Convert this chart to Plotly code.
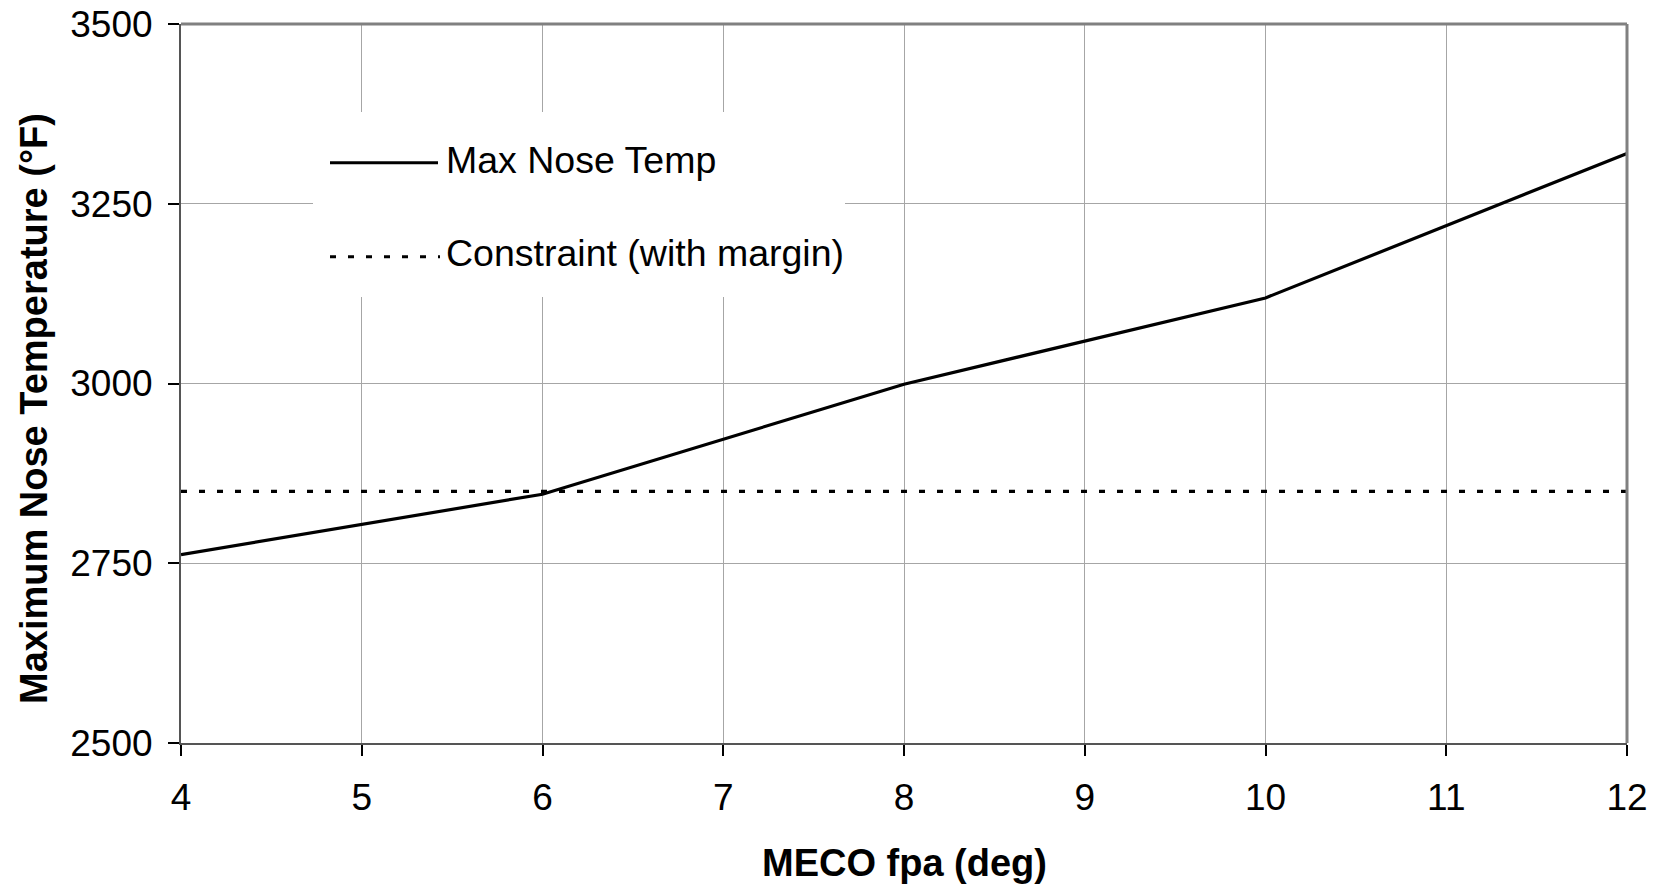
import plotly.graph_objects as go

# ---- data ----
fpa_deg = [4, 6, 8, 10, 12]
max_nose_temp = [2762, 2846, 2999, 3119, 3320]
constraint_x = [4, 12]
constraint_temp = [2850, 2850]

x_ticks = [4, 5, 6, 7, 8, 9, 10, 11, 12]
y_ticks = [2500, 2750, 3000, 3250, 3500]

legend_labels = ["Max Nose Temp", "Constraint (with margin)"]
x_title = "MECO fpa (deg)"
y_title = "Maximum Nose Temperature (°F)"

FONT = "Liberation Sans, Arial, sans-serif"
W, H = 1661, 887
L, R, T, B = 181, 34, 24, 144
PW, PH = W - L - R, H - T - B


def px_x(p):
    return (p - L) / PW


def px_y(p):
    return (H - B - p) / PH


fig = go.Figure()
fig.add_trace(go.Scatter(x=fpa_deg, y=max_nose_temp, mode="lines",
                         name=legend_labels[0],
                         line=dict(color="black", width=3.2)))
fig.add_trace(go.Scatter(x=constraint_x, y=constraint_temp, mode="lines",
                         name=legend_labels[1],
                         line=dict(color="black", width=3.2, dash="6px,12px")))

fig.update_layout(
    width=W, height=H,
    margin=dict(l=L, r=R, t=T, b=B),
    paper_bgcolor="white", plot_bgcolor="white",
    showlegend=False,
    font=dict(family=FONT, size=37, color="black"),
)
fig.update_xaxes(range=[4, 12], tickvals=x_ticks, showgrid=True,
                 gridcolor="#a6a6a6", gridwidth=1,
                 showline=True, linecolor="#555555", linewidth=2,
                 ticks="outside", ticklen=11, tickwidth=1.5, tickcolor="black",
                 tickfont=dict(size=37), zeroline=False, automargin=False,
                 ticklabelstandoff=10)
fig.update_yaxes(range=[2500, 3500], tickvals=y_ticks, showgrid=True,
                 gridcolor="#a6a6a6", gridwidth=1,
                 showline=True, linecolor="#555555", linewidth=2,
                 ticks="outside", ticklen=11, tickwidth=1.5, tickcolor="black",
                 tickfont=dict(size=37), zeroline=False, ticklabelstandoff=8,
                 automargin=False)

shapes = [
    # top and right frame borders
    dict(type="line", xref="paper", yref="paper", x0=0, x1=1, y0=1, y1=1,
         line=dict(color="#808080", width=3)),
    dict(type="line", xref="paper", yref="paper", x0=1, x1=1, y0=0, y1=1,
         line=dict(color="#808080", width=3)),
    # legend box
    dict(type="rect", xref="paper", yref="paper",
         x0=px_x(313), x1=px_x(845), y0=px_y(297), y1=px_y(112),
         fillcolor="white", line=dict(width=0), layer="above"),
    dict(type="line", xref="paper", yref="paper",
         x0=px_x(330), x1=px_x(438), y0=px_y(162.7), y1=px_y(162.7),
         line=dict(color="black", width=3), layer="above"),
    dict(type="line", xref="paper", yref="paper",
         x0=px_x(330), x1=px_x(440), y0=px_y(256.7), y1=px_y(256.7),
         line=dict(color="black", width=3, dash="6px,12px"), layer="above"),
]
fig.update_layout(shapes=shapes)

annotations = [
    dict(text=legend_labels[0], xref="paper", yref="paper",
         x=px_x(444), y=px_y(160), xanchor="left", yanchor="middle",
         showarrow=False, font=dict(size=37.5)),
    dict(text=legend_labels[1], xref="paper", yref="paper",
         x=px_x(444), y=px_y(253), xanchor="left", yanchor="middle",
         showarrow=False, font=dict(size=37.5)),
    dict(text="<b>" + x_title + "</b>", xref="paper", yref="paper",
         x=0.5, y=px_y(863), xanchor="center", yanchor="middle",
         showarrow=False, font=dict(size=38)),
    dict(text="<b>" + y_title + "</b>", xref="paper", yref="paper",
         x=px_x(34), y=px_y(409), xanchor="center", yanchor="middle",
         textangle=-90, showarrow=False, font=dict(size=38)),
]
fig.update_layout(annotations=annotations)

fig.write_html("out.html")
